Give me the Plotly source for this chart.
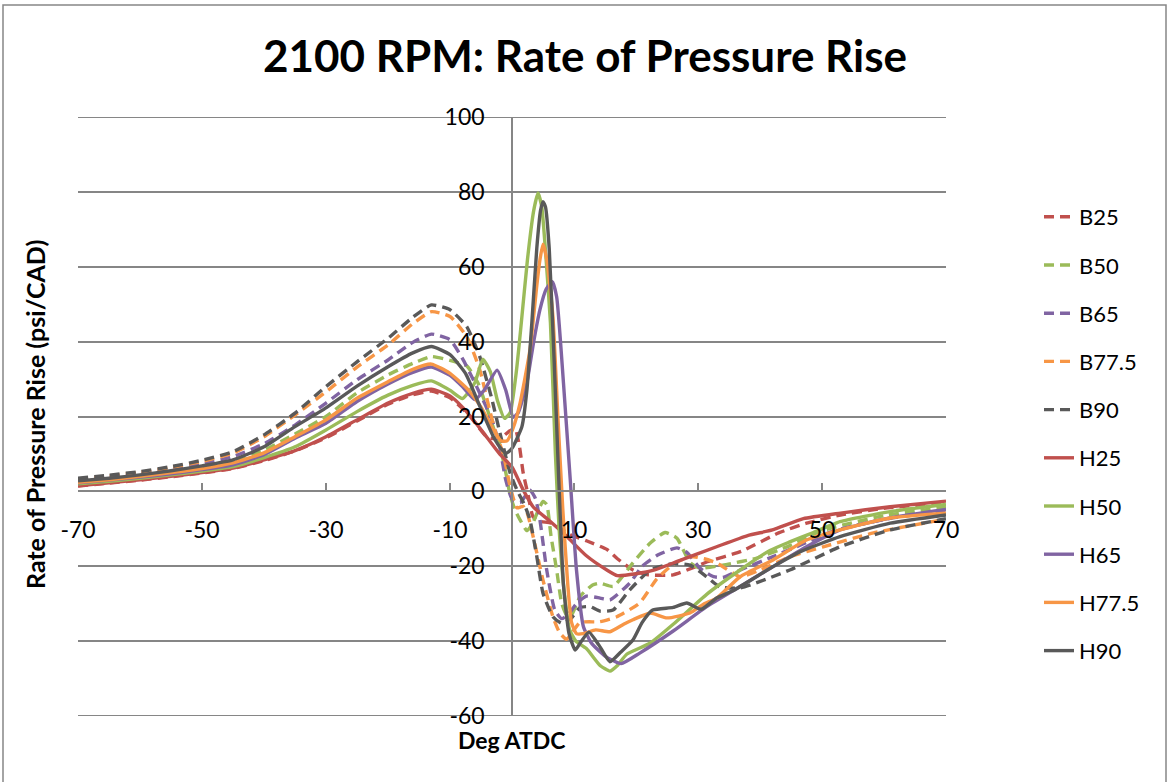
import plotly.graph_objects as go

# ---------------- data ----------------
PRE_X = [-70, -65, -60, -55, -50, -45, -40, -35, -30, -25, -20, -16]

B25_x = PRE_X + [-13, -10, -7, -4, -2, -0.5, 0.5, 1.2, 1.8, 2.6, 3.4, 4.5, 6.4, 9.4, 12, 15.3, 17, 19.5, 22, 26, 29, 31.5, 37, 43, 47.5, 53, 60, 70]
B25_y = [1.4, 2.2, 3.0, 3.9, 4.9, 6.1, 8.2, 10.8, 14.3, 18.8, 23.3, 25.8] + \
        [26.8, 25, 20.5, 14.5, 14, 16, 16.8, 12, 5, -1, -6.8, -8, -8.5, -11.6, -13.2, -15.5, -18, -21, -22.3, -22.3, -20.5, -18.8, -16, -11.1, -8.5, -6.3, -4.5, -3]

B50_x = PRE_X + [-13, -10, -7.3, -5.5, -4, -3, -2, -1, -0.3, 0.5, 1.3, 2.4, 3.2, 4, 5, 5.6, 6.3, 7.2, 8, 8.8, 9.6, 11, 13, 14.2, 16.3, 19.5, 22.3, 24.7, 26.6, 28.7, 30.3, 34, 39.5, 44.8, 50, 60, 70]
B50_y = [2.5, 3.2, 4.1, 5.1, 6.3, 7.9, 11.0, 15.3, 20.0, 26.3, 31.1, 34.2] + \
        [36, 35, 33.5, 29, 22, 17, 12.5, 5, -1, -5, -7.6, -10.5, -9, -6, -2.7, -3.5, -12, -21, -29.8, -33, -33, -28, -25, -24.5, -25.4, -19.1, -13.8, -11, -12.5, -19, -20.5, -19.7, -17.8, -14.5, -10.5, -6.5, -4.2]

B65_x = PRE_X + [-13, -10, -8, -6, -4, -3, -2, -1, 0, 1.3, 2.9, 3.8, 4.5, 5.6, 6.9, 8, 9, 10.4, 12, 14.2, 15.8, 19, 21, 23.5, 26.6, 28.2, 30.3, 32.5, 34, 36.8, 42, 47, 52, 60, 70]
B65_y = [3.0, 3.8, 4.7, 5.9, 7.3, 9.3, 12.7, 17.7, 23.6, 29.8, 35.1, 39.8] + \
        [42, 40.5, 35.5, 29, 22, 18, 12, 3, -2, -3, 0.3, -2, -7.6, -21, -31.7, -34, -33, -30, -28, -28.5, -29, -24.5, -20, -17, -15.1, -16.3, -20.5, -22.8, -23, -21, -17.5, -14, -10.5, -7.5, -5]

B775_x = PRE_X + [-13, -10, -7.3, -5.2, -3.5, -2.5, -1.4, -0.3, 0.8, 1.8, 2.5, 3.4, 5, 6.6, 7.7, 8.8, 10, 11, 14.2, 16.9, 20.6, 23.3, 26, 28.7, 31, 33, 36.8, 40, 44.8, 50.2, 58.3, 70]
B775_y = [3.3, 4.1, 5.1, 6.4, 8.0, 10.2, 14.6, 20.4, 26.6, 33.2, 39.1, 44.8] + \
         [48, 46.7, 41.3, 32.5, 21, 15, 10, 1.3, -4.4, -4, -6, -12, -23.7, -33.5, -37.8, -39.5, -37, -35, -34.8, -33.5, -29.8, -23.5, -19.5, -17.4, -18, -19.1, -22.8, -21, -17.5, -14.8, -11.1, -7.4]

B90_x = PRE_X + [-13, -10, -7.3, -5.2, -3.3, -2, -0.3, 0.8, 2, 2.9, 4, 5, 6.6, 8, 9.5, 11, 12.6, 14.2, 16.3, 19, 22.3, 26, 28.7, 31.4, 33.5, 36.8, 44.8, 52.9, 61, 70]
B90_y = [3.5, 4.3, 5.3, 6.6, 8.3, 10.6, 15.1, 20.9, 28.0, 34.6, 40.9, 46.5] + \
        [49.8, 48.5, 44, 36, 25, 16, 4.9, 0.4, -3.5, -7.6, -17.4, -27.2, -33.5, -35.2, -34, -31, -30.8, -32, -31.7, -26.3, -21, -19.3, -19.7, -22.8, -25.5, -25.8, -21, -14.8, -10.3, -7.3]

H25_x = PRE_X + [-13, -10, -8, -5, -2, 0, 1.8, 3.4, 6, 8.8, 12, 15.3, 17, 20, 23, 27, 33, 38, 42, 47, 53, 61, 70]
H25_y = [1.5, 2.3, 3.1, 4.0, 5.0, 6.2, 8.4, 10.9, 14.6, 19.1, 23.6, 26.2] + \
        [27.3, 25.5, 22.5, 16.5, 10, 6.5, 0.4, -4.1, -7.8, -12, -17.2, -21, -22.5, -22, -21, -18.5, -14.8, -11.8, -10.3, -7.3, -5.8, -4.1, -2.6]

H50_x = PRE_X + [-13, -10, -8, -6, -4.7, -3.5, -2.3, -1.2, -0.3, 0.7, 1.5, 2.5, 3.5, 4.2, 4.8, 5.5, 6.2, 7, 7.6, 8.5, 9.3, 10.3, 12, 14.2, 15.8, 17, 18.5, 22.3, 26, 31.4, 36.8, 41.6, 44.8, 48.6, 52.9, 61, 70]
H50_y = [2.0, 2.7, 3.5, 4.4, 5.4, 6.6, 9.0, 11.9, 16.4, 21.3, 25.7, 28.3] + \
        [29.5, 27, 24.8, 29, 35.3, 32, 24, 19.5, 21, 32, 45, 62, 75, 79.7, 76, 62, 45, 10, -10, -28, -37, -40, -42, -46.5, -48, -46.5, -43.5, -40.5, -35.5, -27.5, -21, -15.8, -13.5, -11, -8.1, -5.4, -3.5]

H65_x = PRE_X + [-13, -10, -8, -6, -4.5, -2.4, -1, 0.2, 1, 2.4, 3.5, 4.5, 5.5, 6.5, 7.2, 8.3, 9.4, 10.4, 11.5, 12.8, 15, 17.6, 20.6, 26, 31.4, 36.8, 42.1, 47.5, 52.9, 61, 70]
H65_y = [2.3, 3.0, 3.8, 4.7, 5.8, 7.1, 9.8, 14.2, 18.2, 24.0, 28.7, 31.8] + \
        [33.2, 31, 28, 24.5, 27, 32.4, 27, 19.8, 21, 29, 40, 48.5, 54, 56, 52, 29, 3, -21, -36, -40.5, -44, -46, -43.2, -37.3, -30.8, -25.4, -20.1, -14.8, -10.3, -7.1, -4.8]

H775_x = PRE_X + [-13, -10, -7, -5, -3, -1.8, -0.8, 0.2, 1.3, 2.9, 4, 4.5, 5, 5.6, 6.6, 7.4, 8.2, 9, 9.6, 10.4, 11.5, 13.5, 15.8, 18, 19.5, 22.3, 25, 28.7, 31, 33, 36.8, 42.1, 47.5, 52.9, 61, 70]
H775_y = [2.4, 3.1, 4.0, 5.0, 6.1, 7.6, 10.3, 14.6, 19.1, 24.9, 29.3, 32.6] + \
         [34, 31.5, 27, 22.5, 16.5, 13.5, 13.5, 17, 23.6, 37.8, 55, 61.8, 66, 62, 46.7, 20, -5, -25, -35, -38, -38, -37, -37.5, -35.5, -34.3, -32.5, -33.8, -32.5, -30, -28.5, -22.8, -18.3, -13, -10.3, -7.1, -5.8]

H90_x = PRE_X + [-13, -10, -7.5, -5, -3, -1.8, -0.9, 0, 1.6, 2.4, 3.2, 4, 4.6, 5, 5.4, 6, 6.8, 7.5, 8.3, 9.2, 10.2, 11.2, 12.4, 14, 15.8, 17.5, 19.5, 21, 22.7, 26, 28.2, 30.5, 33, 35.7, 42.1, 46.5, 52.9, 61, 70]
H90_y = [2.8, 3.5, 4.4, 5.5, 6.8, 8.4, 11.9, 17.3, 22.3, 28.1, 33.3, 37.0] + \
        [38.7, 36.5, 31.5, 22, 14.6, 11.5, 10.2, 11.5, 17.3, 27, 45, 65, 75, 77.4, 76, 65, 35, 5, -25, -38, -42.4, -40, -37.6, -41, -45.5, -43, -39.7, -35, -31.7, -31, -29.8, -31.5, -28.5, -26.5, -20.1, -16.1, -12.1, -8.5, -6.3]

SERIES = [
    ("B25", B25_x, B25_y, "#C0504D", True),
    ("B50", B50_x, B50_y, "#9BBB59", True),
    ("B65", B65_x, B65_y, "#8064A2", True),
    ("B77.5", B775_x, B775_y, "#F79646", True),
    ("B90", B90_x, B90_y, "#595959", True),
    ("H25", H25_x, H25_y, "#C0504D", False),
    ("H50", H50_x, H50_y, "#9BBB59", False),
    ("H65", H65_x, H65_y, "#8064A2", False),
    ("H77.5", H775_x, H775_y, "#F79646", False),
    ("H90", H90_x, H90_y, "#595959", False),
]

X_TICKS = [-70, -50, -30, -10, 10, 30, 50, 70]
X_TICKTEXT = ["-70", "-50", "-30", "-10", "10", "30", "50", "70"]
Y_TICKS = [-60, -40, -20, 0, 20, 40, 60, 80, 100]
Y_TICKTEXT = ["-60", "-40", "-20", "0", "20", "40", "60", "80", "100"]

FONT = "Lato"
GRID = "#868686"

W, H = 1170, 782
PL, PR, PT, PB = 78, 946, 117, 716  # plot area in pixels

fig = go.Figure()
for name, xs, ys, col, dashed in SERIES:
    fig.add_trace(go.Scatter(
        x=xs, y=ys, name=name, mode="lines", legendgroup=name,
        line=dict(color=col, width=3.4, dash="10px,6px" if dashed else "solid",
                  shape="spline", smoothing=0.5),
    ))

YR = [Y_TICKS[0], Y_TICKS[-1]]
XR = [X_TICKS[0], X_TICKS[-1]]
xd = [PL / W, PR / W]
yd = [1 - PB / H, 1 - PT / H]
ypos_x0 = xd[0] + (xd[1] - xd[0]) * (0 - XR[0]) / (XR[1] - XR[0])
xpos_y0 = yd[0] + (yd[1] - yd[0]) * (0 - YR[0]) / (YR[1] - YR[0])

# gridlines at the two range ends (plotly omits them at the plot edges)
edge_grid = [dict(type="line", xref="paper", yref="y", x0=xd[0], x1=xd[1], y0=v, y1=v,
                  line=dict(color=GRID, width=2), layer="below")
             for v in (Y_TICKS[0], Y_TICKS[-1])]

fig.update_layout(
    template="none",
    width=W, height=H,
    margin=dict(l=0, r=0, t=0, b=0, autoexpand=False),
    paper_bgcolor="white", plot_bgcolor="white",
    font=dict(family=FONT, size=22, color="black"),
    title=dict(text="<b>2100 RPM: Rate of Pressure Rise</b>", x=0.5, xanchor="center",
               y=1 - 57 / H, yanchor="middle", font=dict(family=FONT, size=44, color="black")),
    xaxis=dict(domain=xd, range=XR, anchor="free", position=xpos_y0, automargin=False,
               tickmode="array", tickvals=X_TICKS, ticktext=X_TICKTEXT, ticks="inside", ticklen=8,
               tickcolor=GRID, tickwidth=1.5, showline=True, linecolor=GRID, linewidth=1.5,
               showgrid=False, zeroline=False, ticklabelstandoff=18,
               tickfont=dict(family=FONT, size=23, color="black")),
    yaxis=dict(domain=yd, range=YR, anchor="free", position=ypos_x0, automargin=False,
               tickmode="array", tickvals=Y_TICKS, ticktext=Y_TICKTEXT, ticks="", showline=True,
               linecolor=GRID, linewidth=1.5, showgrid=True, gridcolor=GRID, gridwidth=2,
               zeroline=False, ticklabelstandoff=22,
               tickfont=dict(family=FONT, size=23, color="black")),
    legend=dict(x=1039 / W, y=1 - 196 / H, xanchor="left", yanchor="top",
                tracegroupgap=16.6, bgcolor="rgba(0,0,0,0)", borderwidth=0,
                font=dict(family=FONT, size=22, color="black")),
    showlegend=True,
    annotations=[
        dict(text="<b>Deg ATDC</b>", x=511 / W, y=1 - 740 / H, xref="paper", yref="paper",
             showarrow=False, xanchor="center", yanchor="middle",
             font=dict(family=FONT, size=23, color="black")),
        dict(text="<b>Rate of Pressure Rise (psi/CAD)</b>", x=35 / W, y=1 - 415 / H,
             xref="paper", yref="paper", showarrow=False, textangle=-90,
             xanchor="center", yanchor="middle",
             font=dict(family=FONT, size=25, color="black")),
    ],
    shapes=[dict(type="rect", xref="paper", yref="paper", x0=3 / W, x1=1166 / W,
                 y0=-0.05, y1=1 - 5 / H, line=dict(color=GRID, width=1.5),
                 fillcolor="rgba(0,0,0,0)", layer="below")] + edge_grid,
)

fig.write_html("out.html")
